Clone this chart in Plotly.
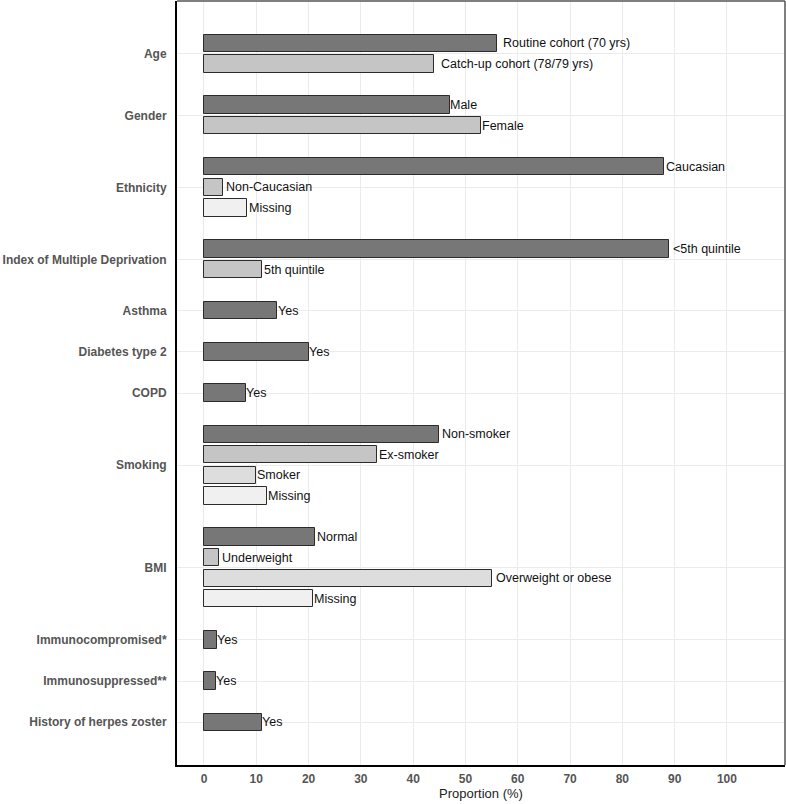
import plotly.graph_objects as go

groups = ["Age", "Gender", "Ethnicity", "Index of Multiple Deprivation", "Asthma",
          "Diabetes type 2", "COPD", "Smoking", "BMI", "Immunocompromised*",
          "Immunosuppressed**", "History of herpes zoster"]
sub_labels = [
    ["Routine cohort (70 yrs)", "Catch-up cohort (78/79 yrs)"],
    ["Male", "Female"],
    ["Caucasian", "Non-Caucasian", "Missing"],
    ["<5th quintile", "5th quintile"],
    ["Yes"],
    ["Yes"],
    ["Yes"],
    ["Non-smoker", "Ex-smoker", "Smoker", "Missing"],
    ["Normal", "Underweight", "Overweight or obese", "Missing"],
    ["Yes"],
    ["Yes"],
    ["Yes"],
]
sub_values = [
    [56.0, 44.0],
    [47.0, 53.0],
    [88.0, 3.7, 8.3],
    [89.0, 11.0],
    [14.0],
    [20.0],
    [8.0],
    [45.0, 33.0, 10.0, 12.0],
    [21.3, 2.9, 55.0, 20.8],
    [2.5],
    [2.3],
    [11.0],
]
x_ticks = [0, 10, 20, 30, 40, 50, 60, 70, 80, 90, 100]

shades = ["#777777", "#c5c5c5", "#dddddd"]
missing_shade = "#f0f0f0"

ys, xs, cols, labs = [], [], [], []
centers = []
pos = 0
for g, labels, vals in zip(groups, sub_labels, sub_values):
    n = len(labels)
    for i, (lab, v) in enumerate(zip(labels, vals)):
        ys.append(pos + i)
        xs.append(v)
        labs.append(lab)
        cols.append(missing_shade if lab == "Missing" else shades[min(i, 2)])
    centers.append(pos + (n - 1) / 2)
    pos += n + 1

fig = go.Figure()
fig.add_trace(go.Bar(
    x=xs, y=ys, orientation="h", width=0.84,
    marker=dict(color=cols, line=dict(color="#2b2b2b", width=1)),
    hoverinfo="skip", showlegend=False,
))

for x, y, lab in zip(xs, ys, labs):
    fig.add_annotation(x=x, y=y, text=lab, showarrow=False, xanchor="left",
                       yanchor="middle", xshift=0.28 * len(lab) - 2.5,
                       font=dict(family="Liberation Sans, Arial", size=12.5, color="#111111"))

fig.add_shape(type="line", xref="paper", yref="paper", x0=0, x1=1, y0=1, y1=1,
              line=dict(color="#555555", width=1.5))
fig.add_shape(type="line", xref="paper", yref="paper", x0=1, x1=1, y0=0, y1=1,
              line=dict(color="#555555", width=1.5))

fig.update_layout(
    width=786, height=804,
    margin=dict(l=177, r=1, t=1, b=39),
    plot_bgcolor="white", paper_bgcolor="white",
    bargap=0,
    xaxis=dict(range=[-5.16, 111.1], tickvals=x_ticks, ticktext=[str(t) for t in x_ticks],
               automargin=False,
               showgrid=True, gridcolor="#ebebeb", gridwidth=1, zeroline=False,
               showline=True, linecolor="black", linewidth=2, ticks="",
               ticklabelstandoff=2,
               tickfont=dict(family="Liberation Sans, Arial", size=12, color="#555555", weight="bold"),
               title=dict(text="Proportion (%)", standoff=3,
                          font=dict(family="Liberation Sans, Arial", size=13, color="#222222"))),
    yaxis=dict(range=[35.08, -2.06], tickvals=centers, ticktext=groups,
               automargin=False,
               showgrid=True, gridcolor="#ebebeb", gridwidth=1, zeroline=False,
               showline=True, linecolor="black", linewidth=2, ticks="",
               ticklabelstandoff=6,
               tickfont=dict(family="Liberation Sans, Arial", size=12, color="#555555", weight="bold")),
)

fig.write_html("out.html", config={"displayModeBar": False},
               post_script="document.body.style.margin='0';document.body.style.overflow='hidden';")
